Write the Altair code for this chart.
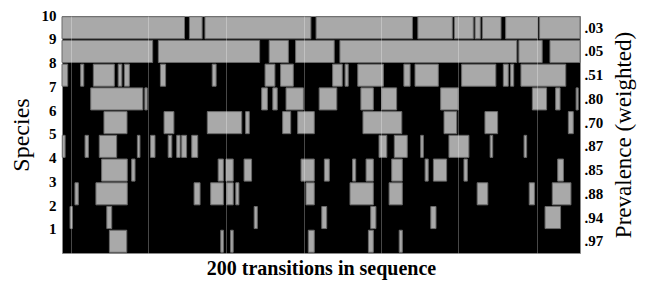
import altair as alt
import pandas as pd

# Species, top row to bottom row
species = [10, 9, 8, 7, 6, 5, 4, 3, 2, 1]
prevalence = [".03", ".05", ".51", ".80", ".70", ".87", ".85", ".88", ".94", ".97"]

# Gray (absent) runs per species, as (start, end) in transition units (0-200)
absent_10 = [(0, 47.3), (49.2, 54.1), (55.2, 96.1), (98.1, 135.3), (137.4, 150.7),
             (151.5, 158.8), (159.5, 161.5), (162.3, 169.5), (171.3, 183.7), (184.4, 200)]
absent_9 = [(0, 35), (37.2, 76.3), (80, 87.4), (90.2, 105.1), (107.3, 175.6),
            (176.4, 185.4), (188.4, 200)]
absent_8 = [(0, 2.2), (7.2, 8.4), (12.1, 20.2), (21.7, 23.1), (24.1, 26), (38, 40),
            (58, 59.5), (78.4, 82.2), (84.4, 89.3), (104.5, 108.2), (109.3, 110.5),
            (114.2, 124.1), (132, 134.4), (136.3, 145.3), (154.3, 167.5), (170.4, 172.3),
            (173.2, 174.4), (177.2, 194.5)]
absent_7 = [(11.1, 31.2), (32, 32.9), (77.1, 79.3), (81.4, 83.1), (86.5, 93.2),
            (99.3, 106.1), (115.4, 120.2), (123.4, 129.2), (146.2, 153), (181.6, 187.1),
            (190.6, 192.3), (198.5, 199.3)]
absent_6 = [(16.2, 25.1), (39.4, 43.2), (56.1, 69.4), (70.9, 72.3), (85.2, 88.3),
            (91, 97.4), (116.2, 131.2), (147.5, 152.4), (163.3, 168.2), (195.5, 197.4)]
absent_5 = [(0.1, 1.2), (8.9, 10.2), (14.4, 21.1), (29.1, 30.1), (34.2, 35.9),
            (41, 42.4), (44.3, 45.6), (46.2, 48.1), (50.1, 52.4), (122.4, 125.4),
            (128.3, 133.3), (138.5, 139.5), (149.4, 157.1), (165.3, 166.3), (178.4, 179.4)]
absent_4 = [(15.3, 25.2), (26.9, 28.2), (60.3, 62.3), (63.3, 66.1), (70.3, 73.2),
            (92.3, 97.4), (101.3, 103.2), (112.2, 113.4), (117.4, 120.2), (127.3, 131.4),
            (140.2, 141.4), (143.4, 148.5), (155.2, 156.5), (191.4, 193.6)]
absent_3 = [(5, 6.3), (13.1, 25.2), (51, 53.3), (57.4, 62.3), (63.6, 66.1), (67.1, 68.3),
            (94.2, 97.4), (111.2, 120.2), (126.3, 131.4), (160.3, 164.4), (180.4, 182.4),
            (189.3, 196.5)]
absent_2 = [(3.1, 4), (17.3, 19.2), (74.2, 75.4), (100.3, 102.2), (119.2, 121.2),
            (142.4, 144.4), (186.5, 192.5)]
absent_1 = [(18.3, 25), (61.3, 62.3), (65.1, 66.1), (95.1, 97.4), (118.3, 120.2),
            (130.2, 131.4)]

# faint vertical reference lines (transition units)
guide_lines = [3.5, 33.3, 63.5, 93.4, 123.2, 153.0, 183.4]

runs = [absent_10, absent_9, absent_8, absent_7, absent_6,
        absent_5, absent_4, absent_3, absent_2, absent_1]
records = []
for sp, segs in zip(species, runs):
    for a, b in segs:
        records.append({"species": sp, "start": a, "end": b})
df = pd.DataFrame(records)
labels_df = pd.DataFrame({"species": species, "prev": prevalence})

FONT = "Liberation Serif"
pad_in, pad_out = 0.07, 0.03

xscale = alt.Scale(domain=[0, 200], nice=False, zero=False)

bars = alt.Chart(df).mark_rect(color="#a9a9a9", stroke="#6a6a6a", strokeWidth=1).encode(
    x=alt.X("start:Q", scale=xscale,
            axis=alt.Axis(title="200 transitions in sequence", values=guide_lines,
                          grid=True, gridColor="white", gridOpacity=0.28, gridWidth=1,
                          labels=False, ticks=False, domain=False, zindex=1,
                          titleFont=FONT, titleFontSize=20, titleFontWeight="bold",
                          titleColor="black", titlePadding=5)),
    x2="end:Q",
    y=alt.Y("species:O",
            scale=alt.Scale(domain=species, paddingInner=pad_in, paddingOuter=pad_out),
            axis=alt.Axis(title="Species", orient="left", ticks=False, domain=False,
                          labelFont=FONT, labelFontSize=15, labelFontWeight="bold",
                          labelColor="black", labelPadding=6, labelOffset=-12,
                          titleFont=FONT, titleFontSize=24, titleFontWeight="normal",
                          titleColor="black", titlePadding=8)),
)

right = alt.Chart(labels_df).mark_tick(opacity=0).encode(
    y=alt.Y("prev:O",
            scale=alt.Scale(domain=prevalence, paddingInner=pad_in, paddingOuter=pad_out),
            axis=alt.Axis(title="Prevalence (weighted)", orient="right", ticks=False,
                          domain=False, labelFont=FONT, labelFontSize=15,
                          labelFontWeight="bold", labelColor="black", labelPadding=4,
                          titleFont=FONT, titleFontSize=23, titleFontWeight="normal",
                          titleColor="black", titleAngle=270, titleBaseline="top",
                          titlePadding=10)),
)

chart = alt.layer(bars, right).resolve_scale(y="independent").properties(
    width=518, height=237,
    autosize=alt.AutoSizeParams(type="none"),
    padding={"left": 54, "top": 8, "right": 58, "bottom": 28},
).configure_view(fill="black", stroke="#8a8a8a", strokeWidth=1)

chart.save("out.html", embed_options={"renderer": "svg", "actions": False})
